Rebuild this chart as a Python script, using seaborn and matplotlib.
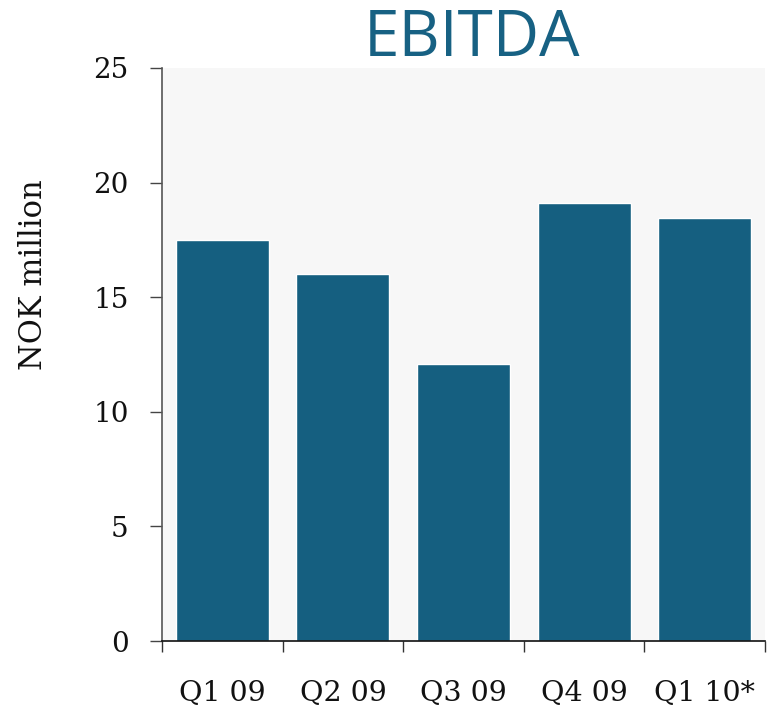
import matplotlib
matplotlib.use("Agg")
import matplotlib.pyplot as plt
import seaborn as sns
import pandas as pd
import numpy as np

quarters = ["Q1 09", "Q2 09", "Q3 09", "Q4 09", "Q1 10*"]
ebitda = [17.5, 16.0, 12.1, 19.1, 18.45]
y_ticks = [0, 5, 10, 15, 20, 25]

df = pd.DataFrame({"quarter": quarters, "ebitda": ebitda})

sns.set_style("white")
plt.rcParams["font.family"] = ["DejaVu Serif"]

bar_color = "#155f80"

fig = plt.figure(figsize=(7.69, 7.14), dpi=100)
ax = fig.add_axes([0.2107, 0.1022, 0.7841, 0.8026])
ax.set_facecolor("#f7f7f7")

sns.barplot(data=df, x="quarter", y="ebitda", color=bar_color, width=0.77,
            saturation=1, ax=ax)

ax.set_xlim(-0.5, len(quarters) - 0.5)
ax.set_ylim(0, 25)
ax.set_yticks(y_ticks)
ax.set_yticklabels([str(v) for v in y_ticks])

# Category boundaries get the tick marks, labels sit in between
ax.set_xticks(np.arange(len(quarters)))
ax.set_xticklabels(quarters)
ax.set_xticks(np.arange(-0.5, len(quarters)), minor=True)
ax.tick_params(axis="x", which="major", bottom=True, length=0, pad=28,
               labelsize=20.5, labelcolor="#111111")
ax.tick_params(axis="x", which="minor", bottom=True, length=8, width=1.0,
               color="#333333", direction="out")
ax.tick_params(axis="y", left=True, length=9, width=1.0, color="#444444",
               direction="out", pad=15, labelsize=20, labelcolor="#111111")

for side in ("top", "right"):
    ax.spines[side].set_visible(False)
ax.spines["left"].set_color("#555555")
ax.spines["left"].set_linewidth(1.2)
ax.spines["bottom"].set_color("#111111")
ax.spines["bottom"].set_linewidth(1.2)

ax.set_xlabel("")
ax.set_ylabel("NOK million", fontsize=22, color="#111111")
ax.yaxis.set_label_coords(-0.188, 0.64)

fig.text(0.6138, 0.946, "EBITDA", family=["Open Sans", "DejaVu Sans"], fontsize=46,
         color="#176183", ha="center", va="center")

fig.savefig("out.png", dpi=100)
